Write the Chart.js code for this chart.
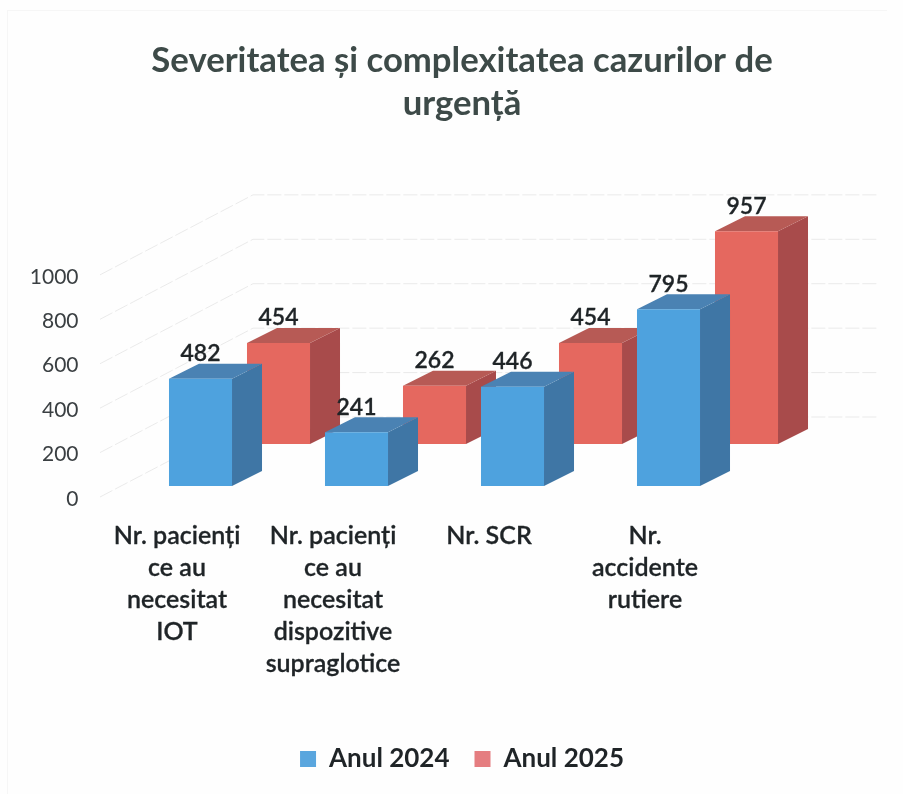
<!DOCTYPE html>
<html>
<head>
<meta charset="utf-8">
<script src="https://cdn.jsdelivr.net/npm/chart.js@4"></script>
<style>
  html, body { margin: 0; padding: 0; background: #fefefe; }
  canvas { display: block; position: relative; }
  #frame { position: absolute; left: 7px; top: 10px; width: 880px; height: 784px; border-left: 1px solid #f6f6f6; border-top: 1px solid #f6f6f6; box-sizing: border-box; }
</style>
</head>
<body>
<div id="frame"></div>
<canvas id="severitate" width="903" height="794"></canvas>
<script>
const titleLines = ['Severitatea și complexitatea cazurilor de', 'urgență'];
const categories = [
    ['Nr. pacienți', 'ce au', 'necesitat', 'IOT'],
    ['Nr. pacienți', 'ce au', 'necesitat', 'dispozitive', 'supraglotice'],
    ['Nr. SCR'],
    ['Nr.', 'accidente', 'rutiere'],
];
const anul2024 = [482, 241, 446, 795];
const anul2025 = [454, 262, 454, 957];
const yTicks = [0, 200, 400, 600, 800, 1000];

const fontName = 'Lato, "Open Sans", sans-serif';
const textColor = '#1f2427';
const depthX = 30, depthY = 15;

function side(ctx, pts, color) {
    ctx.fillStyle = color;
    ctx.beginPath();
    pts.forEach((p, i) => i ? ctx.lineTo(p[0], p[1]) : ctx.moveTo(p[0], p[1]));
    ctx.closePath();
    ctx.fill();
}

// the 3D look: side and top of each bar go under the bar the library draws
const blocks = {
    id: 'blocks',
    beforeDatasetDraw(chart, args) {
        const ds = chart.data.datasets[args.index];
        const ctx = chart.ctx;
        ctx.save();
        args.meta.data.forEach(bar => {
            const l = bar.x - bar.width / 2, r = bar.x + bar.width / 2;
            side(ctx, [[r, bar.y], [r + depthX, bar.y - depthY], [r + depthX, bar.base - depthY], [r, bar.base]], ds.sideColor);
            side(ctx, [[l, bar.y], [l + depthX, bar.y - depthY], [r + depthX, bar.y - depthY], [r, bar.y]], ds.topColor);
        });
        ctx.restore();
    },
    afterDatasetsDraw(chart) {
        const ctx = chart.ctx;
        ctx.save();
        ctx.font = '600 23px ' + fontName;
        ctx.fillStyle = textColor;
        ctx.strokeStyle = textColor;
        ctx.lineWidth = 0.3;
        ctx.textAlign = 'center';
        ctx.textBaseline = 'middle';
        chart.data.datasets.forEach((ds, i) => {
            chart.getDatasetMeta(i).data.forEach((bar, j) => {
                ctx.fillText(ds.data[j], bar.x, bar.y - depthY - 10);
                ctx.strokeText(ds.data[j], bar.x, bar.y - depthY - 10);
            });
        });
        ctx.restore();
    }
};

// faint floor-to-wall grid behind the bars
const wallGrid = {
    id: 'wallGrid',
    beforeDatasetsDraw(chart) {
        const ctx = chart.ctx, y = chart.scales.y;
        ctx.save();
        ctx.strokeStyle = 'rgba(190,190,190,0.3)';
        ctx.lineWidth = 1;
        ctx.setLineDash([14, 3]);
        y.ticks.forEach(t => {
            const py = y.getPixelForValue(t.value);
            ctx.beginPath();
            ctx.moveTo(100, py);
            ctx.lineTo(253, py - 80);
            ctx.lineTo(878, py - 80);
            ctx.stroke();
        });
        ctx.restore();
    }
};

new Chart(document.getElementById('severitate'), {
    type: 'bar',
    plugins: [wallGrid, blocks],
    data: {
        labels: categories,
        datasets: [{
            label: 'Anul 2024',
            data: anul2024,
            yAxisID: 'yFront',
            backgroundColor: '#4ea2de',
            sideColor: '#3f76a5',
            topColor: '#4a82b3',
            legendColor: '#5aa6de',
        }, {
            label: 'Anul 2025',
            data: anul2025,
            yAxisID: 'yBack',
            backgroundColor: '#e5685f',
            sideColor: '#a84b4b',
            topColor: '#b75a55',
            legendColor: '#e57d80',
        }]
    },
    options: {
        responsive: false,
        animation: false,
        layout: { padding: { left: 21, right: 0, top: 0, bottom: 12 } },
        datasets: { bar: { categoryPercentage: 1, barPercentage: 0.808 } },
        scales: {
            x: {
                grid: { display: false, drawTicks: false },
                border: { display: false },
                afterFit(scale) { scale.height = 224; },
                ticks: {
                    autoSkip: false,
                    maxRotation: 0,
                    padding: 23,
                    labelOffset: -62.5,
                    color: textColor,
                    textStrokeColor: textColor,
                    textStrokeWidth: 0.3,
                    font: { family: fontName, size: 25, weight: '600', lineHeight: '32px' },
                },
            },
            y: {
                min: 0,
                max: 1400,
                grid: { display: false, drawTicks: false },
                border: { display: false },
                afterFit(scale) { scale.width = 140.5; },
                afterBuildTicks(scale) { scale.ticks = yTicks.map(v => ({ value: v })); },
                ticks: {
                    padding: 83,
                    labelOffset: 2,
                    color: '#3a3f42',
                    font: { family: fontName, size: 21 },
                    callback: v => String(v),
                },
            },
            // front and back rows stand higher up the floor than the labelled axis
            yFront: { display: false, min: -50, max: 1350 },
            // empty on the right so the title and legend stay centred on the page
            yBack: {
                position: 'right',
                min: -239,
                max: 1161,
                grid: { display: false, drawTicks: false },
                border: { display: false },
                ticks: { display: false },
                afterFit(scale) { scale.width = 117.5; },
            },
        },
        plugins: {
            title: {
                display: true,
                text: titleLines,
                color: '#3d4a48',
                font: { family: fontName, size: 34.7, weight: 'bold', lineHeight: '43px' },
                padding: { top: 39, bottom: 61 },
            },
            legend: {
                position: 'bottom',
                labels: {
                    boxWidth: 16,
                    boxHeight: 16,
                    padding: 25,
                    color: textColor,
                    font: { family: fontName, size: 26, weight: 'bold' },
                    generateLabels(chart) {
                        return chart.data.datasets.map((ds, i) => ({
                            text: ds.label,
                            fillStyle: ds.legendColor,
                            strokeStyle: ds.legendColor,
                            lineWidth: 0,
                            fontColor: textColor,
                            datasetIndex: i,
                        }));
                    },
                },
            },
            tooltip: { enabled: false },
        },
    },
});
</script>
</body>
</html>
